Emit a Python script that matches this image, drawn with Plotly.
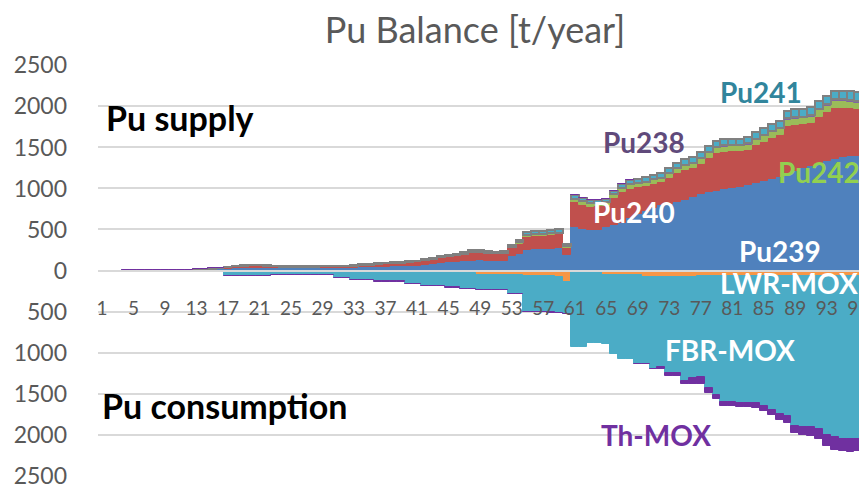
import plotly.graph_objects as go

# ----------------------------
# Data (t/year), categories 1..98
# ----------------------------
years = list(range(1, 99))

pu239 = [0, 0, 0, 1, 1, 2, 2, 3, 3, 4,
         5, 6, 9, 11, 13, 15, 22, 30, 33, 35,
         35, 33, 28, 27, 26, 26, 27, 27, 28, 28,
         30, 31, 32, 38, 40, 45, 48, 50, 51, 58,
         60, 68, 75, 95, 105, 108, 115, 120, 125, 120,
         118, 120, 179, 207, 255, 258, 262, 265, 270, 191,
         525, 505, 495, 498, 525, 555, 585, 640, 690, 730,
         765, 795, 815, 840, 865, 890, 930, 955, 975, 995,
         1005, 1020, 1040, 1070, 1095, 1115, 1135, 1190, 1215, 1245,
         1275, 1310, 1340, 1365, 1380, 1390, 1390, 1385]

pu240 = [0, 0, 0, 0, 0, 0, 1, 1, 2, 2,
         3, 5, 6, 8, 10, 11, 16, 22, 23, 24,
         24, 23, 19, 17, 16, 16, 17, 18, 19, 19,
         20, 20, 21, 26, 29, 35, 35, 35, 36, 43,
         46, 50, 57, 60, 66, 67, 81, 95, 93, 86,
         83, 83, 92, 118, 157, 163, 164, 165, 170, 89,
         306, 297, 283, 285, 263, 328, 371, 356, 323, 298,
         291, 278, 318, 351, 363, 358, 374, 421, 456, 453,
         448, 433, 431, 455, 476, 500, 517, 570, 562, 535,
         525, 562, 587, 616, 601, 586, 574, 578]

pu242 = [0, 0, 0, 0, 0, 0, 0, 0, 0, 0,
         0, 0, 1, 1, 1, 1, 2, 2, 2, 2,
         2, 2, 2, 2, 2, 2, 2, 2, 2, 2,
         2, 2, 2, 3, 3, 3, 3, 3, 3, 3,
         3, 5, 5, 7, 7, 7, 7, 9, 9, 9,
         9, 9, 12, 14, 18, 18, 18, 18, 18, 12,
         33, 33, 33, 33, 33, 37, 40, 42, 42, 43,
         44, 45, 47, 50, 51, 52, 55, 58, 60, 61,
         61, 61, 62, 64, 66, 68, 69, 74, 75, 75,
         76, 79, 81, 83, 83, 83, 83, 82]

pu238 = [0, 0, 0, 0, 0, 0, 0, 0, 0, 0,
         0, 0, 0, 0, 0, 0, 1, 1, 1, 1,
         1, 1, 1, 1, 1, 1, 1, 1, 1, 1,
         1, 1, 1, 1, 1, 1, 1, 1, 1, 1,
         1, 1, 1, 2, 2, 2, 2, 2, 2, 2,
         2, 2, 3, 3, 5, 5, 5, 5, 5, 3,
         9, 9, 9, 9, 9, 10, 10, 11, 11, 11,
         11, 12, 12, 13, 13, 14, 14, 15, 15, 16,
         16, 16, 16, 17, 17, 18, 18, 19, 20, 20,
         20, 21, 21, 22, 22, 22, 22, 22]

pu241 = [0, 0, 0, 0, 1, 1, 1, 1, 1, 1,
         1, 1, 2, 2, 2, 3, 4, 5, 6, 6,
         6, 6, 5, 5, 5, 5, 5, 5, 5, 5,
         5, 6, 6, 7, 7, 8, 8, 9, 9, 10,
         10, 11, 12, 14, 15, 16, 17, 19, 19, 18,
         18, 18, 24, 28, 35, 36, 36, 37, 37, 25,
         42, 41, 40, 40, 40, 45, 49, 51, 52, 53,
         54, 55, 58, 61, 63, 64, 67, 71, 74, 75,
         75, 75, 76, 79, 81, 84, 86, 92, 93, 93,
         94, 98, 101, 104, 104, 104, 103, 103]

# consumption (plotted downwards)
lwr_mox = [0, 0, 0, 0, 0, 0, 0, 0, 0, 0,
           0, 0, 8, 8, 8, 8, 5, 5, 5, 5,
           5, 5, 3, 3, 3, 3, 3, 3, 3, 3,
           3, 3, 3, 3, 3, 3, 3, 3, 3, 3,
           10, 10, 10, 35, 35, 35, 35, 35, 55, 55,
           55, 55, 55, 55, 65, 65, 65, 65, 80, 140,
           20, 20, 20, 20, 50, 50, 50, 50, 50, 80,
           80, 80, 80, 80, 80, 80, 65, 65, 65, 65,
           65, 70, 70, 70, 70, 70, 70, 70, 70, 70,
           70, 70, 70, 70, 70, 70, 70, 70]

fbr_mox = [0, 0, 0, 0, 2, 2, 2, 2, 2, 2,
           8, 8, 12, 12, 12, 12, 57, 57, 57, 57,
           57, 57, 55, 55, 55, 55, 55, 55, 55, 55,
           87, 87, 111, 111, 111, 131, 131, 131, 131, 164,
           157, 177, 177, 152, 172, 172, 185, 185, 185, 185,
           185, 185, 235, 235, 435, 440, 440, 445, 440, 385,
           910, 910, 866, 866, 840, 970, 1032, 1032, 1088, 1058,
           1119, 1094, 1170, 1165, 1262, 1227, 1232, 1363, 1450, 1535,
           1540, 1540, 1545, 1545, 1577, 1625, 1675, 1705, 1825, 1840,
           1835, 1860, 1930, 1965, 1990, 1990, 1985, 1980]

th_mox = [0, 0, 0, 0, 0, 0, 0, 0, 0, 0,
          0, 0, 0, 0, 0, 0, 2, 2, 2, 2,
          2, 2, 2, 2, 2, 2, 2, 2, 2, 2,
          2, 2, 2, 2, 2, 2, 2, 2, 2, 2,
          2, 2, 2, 2, 2, 2, 2, 2, 2, 2,
          2, 2, 2, 2, 2, 2, 2, 2, 2, 2,
          0, 0, 0, 0, 0, 0, 0, 0, 5, 5,
          5, 30, 35, 40, 45, 80, 90, 60, 55, 50,
          50, 50, 50, 55, 65, 70, 75, 80, 85, 90,
          110, 130, 140, 150, 140, 150, 150, 150]

y_ticks = [-2500, -2000, -1500, -1000, -500, 0, 500, 1000, 1500, 2000, 2500]
y_labels = ['2500', '2000', '1500', '1000', '500', '0', '500', '1000', '1500', '2000', '2500']

FONT = 'Lato'

# the page body adds an 8px margin round the figure, keep it from overflowing
W, H = 851, 476

# ----------------------------
# Figure
# ----------------------------
fig = go.Figure()

supply = [
    ('Pu239', pu239, '#4F81BD'),
    ('Pu240', pu240, '#C0504D'),
    ('Pu242', pu242, '#9BBB59'),
    ('Pu238', pu238, '#8064A2'),
]
for name, vals, col in supply:
    fig.add_trace(go.Bar(x=years, y=vals, name=name,
                         marker=dict(color=col, line=dict(color=col, width=1))))

fig.add_trace(go.Bar(x=years, y=pu241, name='Pu241',
                     marker=dict(color='#4BACC6', line=dict(color='#808080', width=2))))

consumption = [
    ('LWR-MOX', lwr_mox, '#F79646'),
    ('FBR-MOX', fbr_mox, '#4BACC6'),
    ('Th-MOX', th_mox, '#7030A0'),
]
for name, vals, col in consumption:
    fig.add_trace(go.Bar(x=years, y=[-v for v in vals], name=name,
                         marker=dict(color=col, line=dict(color=col, width=1))))

# series labels
labels = [
    ('Pu supply', 10.9, 1867, 'black', 34),
    ('Pu consumption', 16.6, -1647, 'black', 34),
    ('Pu241', 84.6, 2172, '#31859C', 28),
    ('Pu238', 69.8, 1562, '#604A7B', 28),
    ('Pu242', 92.0, 1196, '#92D050', 28),
    ('Pu240', 68.5, 708, 'white', 28),
    ('Pu239', 87.0, 235, 'white', 28),
    ('LWR-MOX', 88.2, -150, 'white', 28),
    ('FBR-MOX', 80.7, -964, 'white', 28),
    ('Th-MOX', 71.3, -2001, '#7030A0', 28),
]
for txt, lx, ly, col, size in labels:
    fig.add_annotation(x=lx, y=ly, text='<b>' + txt + '</b>', showarrow=False,
                       font=dict(family=FONT, size=size, color=col))

fig.update_layout(
    width=W, height=H,
    margin=dict(l=90, r=0, t=57, b=8, autoexpand=False),
    barmode='relative', bargap=0,
    showlegend=False,
    plot_bgcolor='white', paper_bgcolor='white',
    font=dict(family=FONT, color='#595959'),
    title=dict(text='Pu Balance [t/year]', xref='paper', x=(467 - 90) / 761,
               xanchor='center', y=1 - 22 / H, yanchor='middle',
               font=dict(family=FONT, size=36, color='#595959')),
)
fig.update_xaxes(
    range=[0.5, 97.08], tick0=1, dtick=4,
    anchor='free', position=0.5,
    showline=True, linecolor='#D9D9D9', linewidth=1.5,
    showgrid=False, zeroline=False, ticks='',
    ticklabelstandoff=21, ticklabeloverflow='allow', automargin=False,
    tickfont=dict(family=FONT, size=19, color='#595959'),
)
fig.update_yaxes(
    range=[-2505, 2505], tickvals=y_ticks, ticktext=y_labels,
    showgrid=True, gridcolor='#D9D9D9', gridwidth=1.5,
    zeroline=False, ticks='', ticklabelstandoff=30,
    ticklabeloverflow='allow', automargin=False,
    tickfont=dict(family=FONT, size=23, color='#595959'),
)

fig.write_html("out.html")
